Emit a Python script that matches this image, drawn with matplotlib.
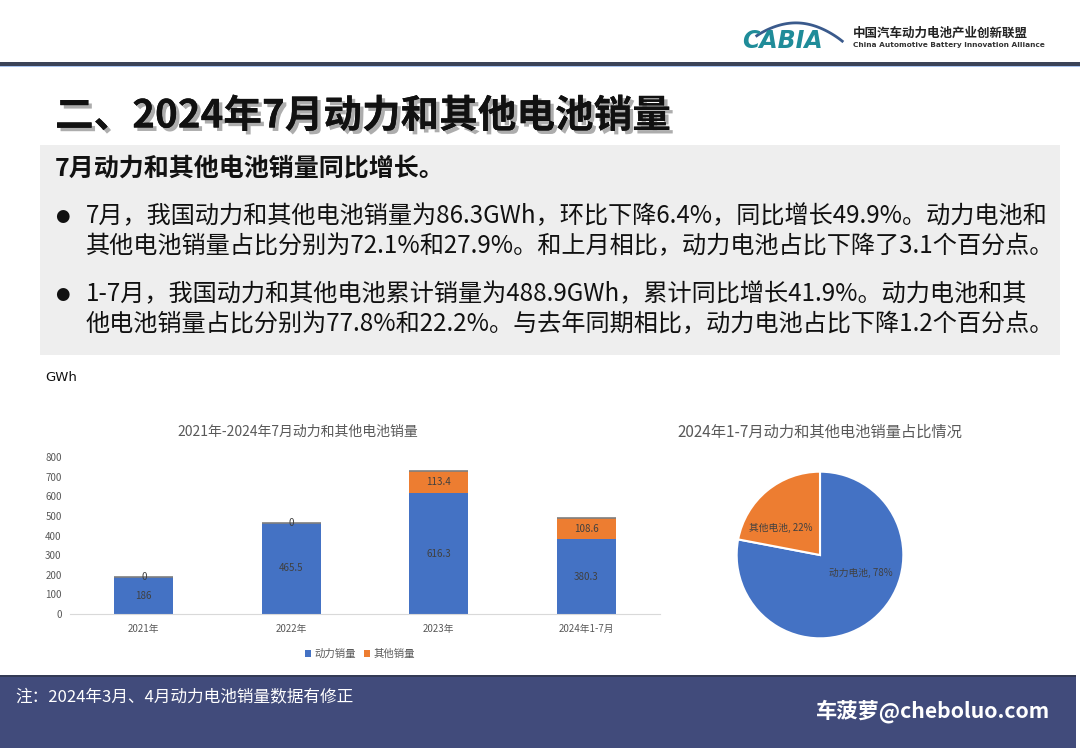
import numpy as np
import matplotlib
matplotlib.use('Agg')
import matplotlib.pyplot as plt
import matplotlib.patches as mpatches
import matplotlib.patheffects as pe

plt.rcParams['font.family'] = ['Noto Sans CJK SC', 'DejaVu Sans']
plt.rcParams['axes.unicode_minus'] = False

# 数据
years = ['2021年', '2022年', '2023年', '2024年1-7月']
power_sales = [186, 465.5, 616.3, 380.3]
other_sales = [0, 0, 113.4, 108.6]
pie_labels = ['动力电池', '其他电池']
pie_share = [78, 22]

title = '二、2024年7月动力和其他电池销量'
headline = '7月动力和其他电池销量同比增长。'
bullet_lines = [
    ['7月，我国动力和其他电池销量为86.3GWh，环比下降6.4%，同比增长49.9%。动力电池和',
     '其他电池销量占比分别为72.1%和27.9%。和上月相比，动力电池占比下降了3.1个百分点。'],
    ['1-7月，我国动力和其他电池累计销量为488.9GWh，累计同比增长41.9%。动力电池和其',
     '他电池销量占比分别为77.8%和22.2%。与去年同期相比，动力电池占比下降1.2个百分点。'],
]
note = '注：2024年3月、4月动力电池销量数据有修正'

BLUE = '#4472C4'
ORANGE = '#ED7D31'
W, H = 1080, 748

fig = plt.figure(figsize=(W / 100, H / 100), dpi=100)
fig.patch.set_facecolor('white')

# 背景层（像素坐标）
bg = fig.add_axes([0, 0, 1, 1])
bg.set_xlim(0, W)
bg.set_ylim(H, 0)
bg.axis('off')

# 顶部线
bg.add_patch(mpatches.Rectangle((0, 61.5), W, 4, color='#3b4358', lw=0))
bg.add_patch(mpatches.Rectangle((0, 65.5), W, 1.5, color='#a9c4f0', lw=0))

# logo
t = np.linspace(0.05, 0.95, 60)
bg.plot(752 + 95 * t, 40 - 20 * np.sin(np.pi * t) ** 0.8 + 6 * t, color='#3a5a8c', lw=2)
bg.text(782, 41, 'CABIA', fontsize=17, fontweight='bold', style='italic', color='#1f8c99',
        ha='center', va='center', family='DejaVu Sans')
bg.text(853, 33, '中国汽车动力电池产业创新联盟', fontsize=9, fontweight='bold', color='#222222',
        ha='left', va='center')
bg.text(853, 45, 'China Automotive Battery Innovation Alliance', fontsize=5.3, fontweight='bold',
        color='#333333', ha='left', va='center', family='DejaVu Sans')

# 标题
bg.text(55, 116, title, fontsize=27.8, fontweight='bold', color='#111111', ha='left', va='center',
        path_effects=[pe.withSimplePatchShadow(offset=(2.5, -2.5), shadow_rgbFace='#777777', alpha=0.6),
                      pe.Normal()])

# 灰色文本框
bg.add_patch(mpatches.Rectangle((40, 145), 1020, 210, color='#eeeeee', lw=0))
bg.text(55, 168, headline, fontsize=18, fontweight='bold', color='#111111', ha='left', va='center')
line_y = [[216, 246], [294, 324]]
for lines, ys in zip(bullet_lines, line_y):
    bg.text(62, ys[0], '●', fontsize=12, color='#111111', ha='center', va='center', family='DejaVu Sans')
    for txt, y in zip(lines, ys):
        bg.text(86, y, txt, fontsize=17.4, color='#111111', ha='left', va='center')

bg.text(45, 377, 'GWh', fontsize=9.5, color='#111111', ha='left', va='center', family='DejaVu Sans')

# 底部栏
bg.add_patch(mpatches.Rectangle((0, 676), 1076, 72, color='#414b7b', lw=0))
bg.add_patch(mpatches.Rectangle((0, 675), 1076, 1.5, color='#333a55', lw=0))
bg.text(15, 697, note, fontsize=12, color='white', ha='left', va='center')
bg.text(1050, 711, '车菠萝@cheboluo.com', fontsize=15.3, fontweight='bold', color='white',
        ha='right', va='center')

# 图表标题
bg.text(298, 432, '2021年-2024年7月动力和其他电池销量', fontsize=10, color='#595959',
        ha='center', va='center')
bg.text(820, 432, '2024年1-7月动力和其他电池销量占比情况', fontsize=11, color='#595959',
        ha='center', va='center')

# 柱状图
ax = fig.add_axes([70 / W, (H - 614) / H, 590 / W, (614 - 457) / H])
x = np.arange(len(years))
b1 = ax.bar(x, power_sales, width=0.4, color=BLUE, label='动力销量', zorder=2)
b2 = ax.bar(x, other_sales, width=0.4, bottom=power_sales, color=ORANGE, label='其他销量', zorder=2)
totals = np.array(power_sales) + np.array(other_sales)
ax.hlines(totals, x - 0.2, x + 0.2, color='#7f7f7f', lw=1.2, zorder=3)
ax.bar_label(b1, labels=[f'{v:g}' for v in power_sales], label_type='center', fontsize=7, color='#404040')
ax.bar_label(b2, labels=[f'{v:g}' for v in other_sales], label_type='center', fontsize=7, color='#404040')
ax.set_xlim(-0.5, len(years) - 0.5)
ax.set_ylim(0, 800)
ax.set_yticks(np.arange(0, 801, 100))
ax.set_xticks(x)
ax.set_xticklabels(years)
ax.tick_params(length=0, labelsize=7, colors='#595959')
ax.tick_params(axis='y', pad=6)
ax.tick_params(axis='x', pad=7)
for s in ['top', 'right', 'left']:
    ax.spines[s].set_visible(False)
ax.spines['bottom'].set_color('#d9d9d9')
ax.patch.set_alpha(0)

fig.legend(handles=[b1, b2], loc='center', bbox_to_anchor=(360 / W, (H - 654) / H), ncol=2,
           frameon=False, fontsize=7.5, handlelength=0.6, handleheight=0.6, handletextpad=0.3,
           columnspacing=0.8, labelcolor='#595959')

# 饼图
R = 85
pax = fig.add_axes([(820 - R) / W, (H - 555 - R) / H, 2 * R / W, 2 * R / H])
pax.pie(pie_share, colors=[BLUE, ORANGE], startangle=90, counterclock=False,
        wedgeprops=dict(edgecolor='white', linewidth=1.5))
pax.set_aspect('equal')
pax.set_xlim(-1.02, 1.02)
pax.set_ylim(-1.02, 1.02)
pax.text(0.49, -0.22, f'{pie_labels[0]}, {pie_share[0]}%', fontsize=7, color='#404040',
         ha='center', va='center')
pax.text(-0.47, 0.33, f'{pie_labels[1]}, {pie_share[1]}%', fontsize=7, color='#404040',
         ha='center', va='center')

fig.savefig('out.png', dpi=100)
